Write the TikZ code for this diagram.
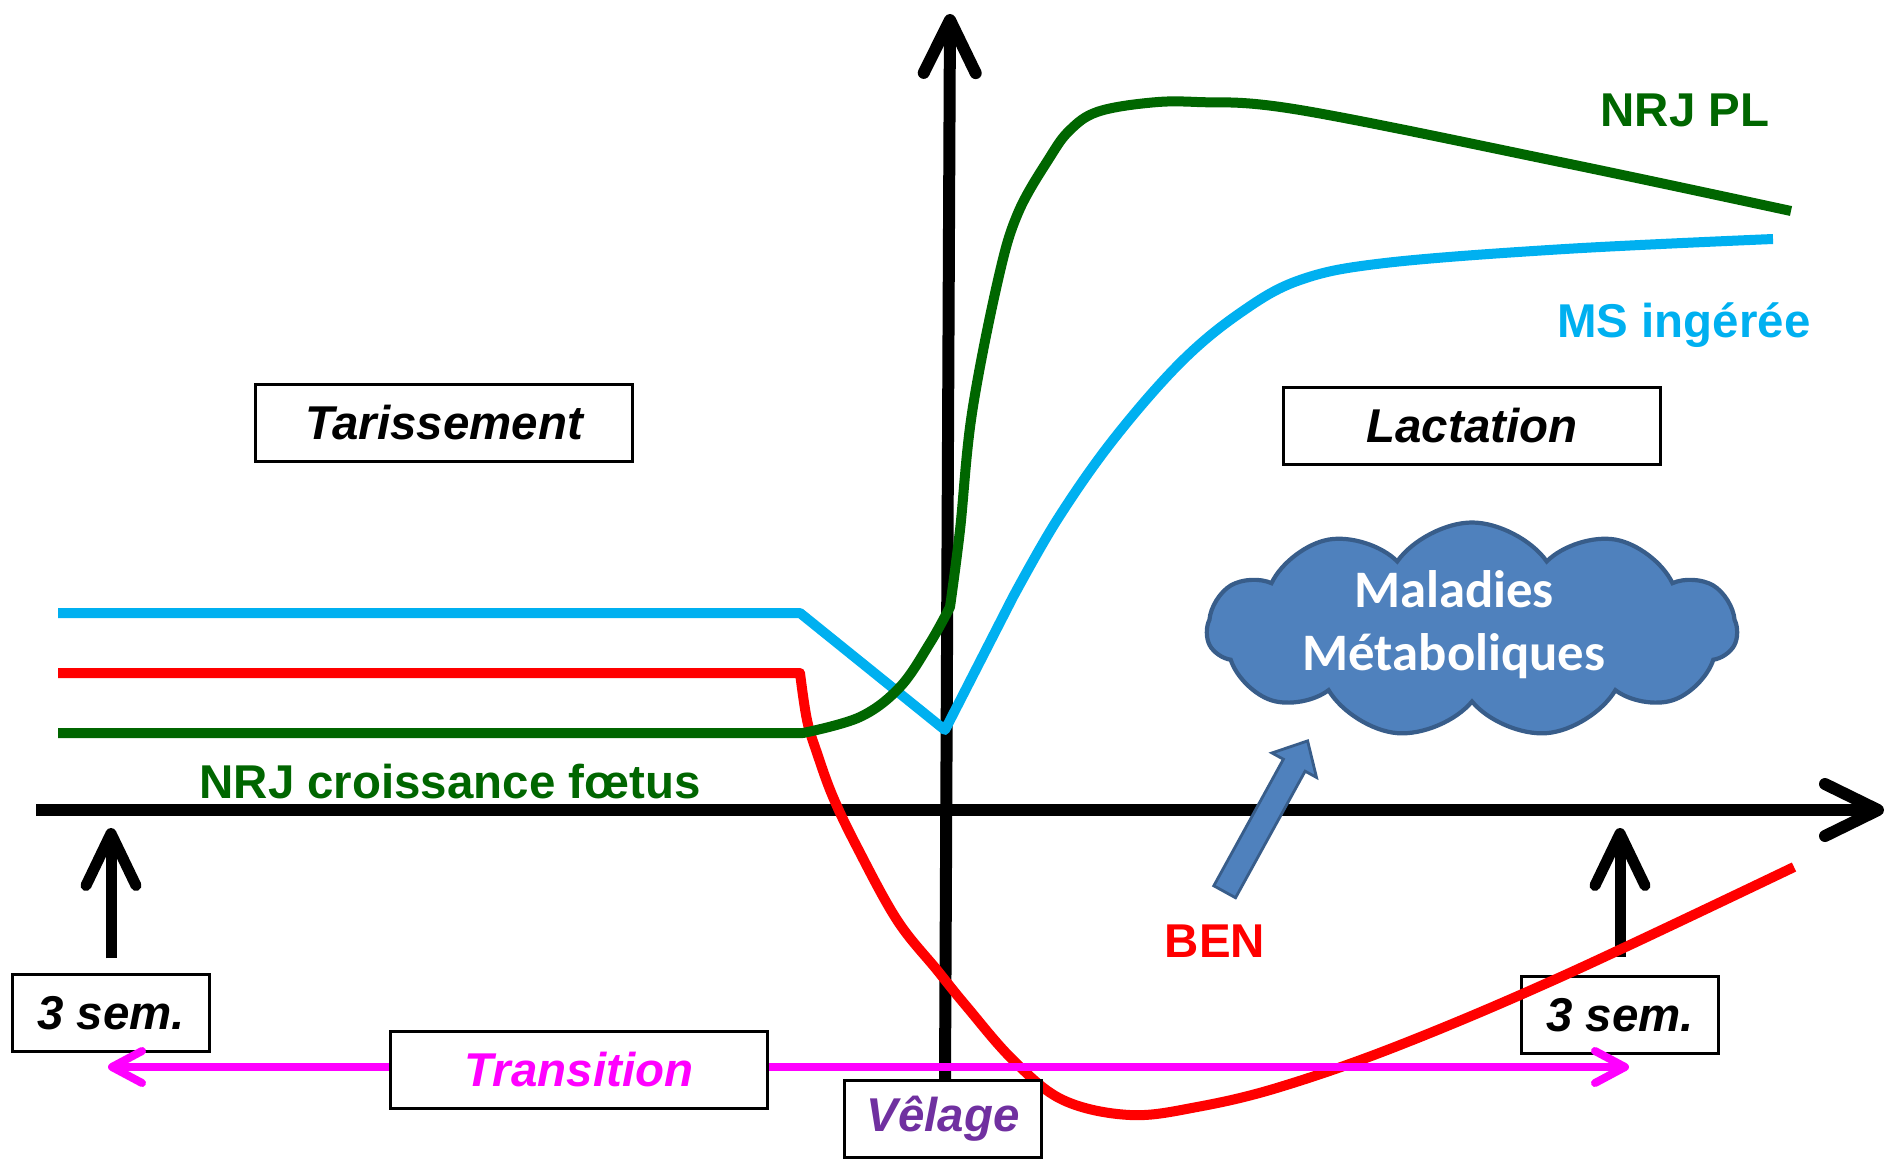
\documentclass[tikz,border=0pt]{standalone}
\usepackage{fontspec}
\setmainfont{Liberation Sans}
\newfontfamily\cloudfont{Carlito}
\usetikzlibrary{arrows.meta,shapes.symbols,shapes.arrows,calc}

\definecolor{msblue}{HTML}{00B0F0}
\definecolor{nrjgreen}{HTML}{006600}
\definecolor{benred}{HTML}{FF0000}
\definecolor{transmag}{HTML}{FF00FF}
\definecolor{velpurple}{HTML}{7030A0}
\definecolor{cloudfill}{HTML}{4F81BD}
\definecolor{cloudline}{HTML}{385D8A}

\tikzset{
	axis/.style={line width=1.2mm, -{Straight Barb[length=5.3mm, width=5.2mm, round]}},
	semarrow/.style={line width=1.1mm, -{Straight Barb[length=5.2mm, width=5mm, round]}},
	transarrow/.style={line width=0.8mm, draw=transmag, >={Straight Barb[length=3mm, width=3.2mm, round]}, <->},
	courbe/.style={line width=1mm, line join=round},
	boxlabel/.style={draw, line width=0.6pt, fill=white, minimum height=7.7mm, inner sep=0pt, font=\fontsize{13.5}{16}\selectfont\bfseries\itshape},
	widebox/.style={boxlabel, minimum width=37.7mm},
	smallbox/.style={boxlabel, minimum width=19.7mm},
	curvelabel/.style={anchor=base, font=\fontsize{13.5}{16}\selectfont\bfseries},
	benarrow/.style={single arrow, draw=cloudline, fill=cloudfill, line width=0.8pt, inner sep=1.1mm, single arrow head extend=1.3mm, single arrow tip angle=85},
}

\begin{document}
\begin{tikzpicture}[x=0.1mm, y=-0.1mm]
	\useasboundingbox (0,0) rectangle (1888,1159);
	\coordinate (xstart) at (36,810);
	\coordinate (xend) at (1884,810);
	\coordinate (ystart) at (945,1080);
	\coordinate (yend) at (950,14);
	\draw [axis] (xstart) -- (xend);
	\draw [axis] (ystart) -- (yend);

	\node [widebox] (tarissement) at (444,423) {Tarissement};
	\node [widebox] (lactation) at (1472,426) {Lactation};
	\node [smallbox] (semL) at (111,1013) {3 sem.};
	\node [smallbox] (semR) at (1620,1015) {3 sem.};
	\coordinate (tipL) at (110,828);
	\coordinate (tipR) at (1616,828);
	\draw [semarrow] ([yshift=1.5mm]semL.north) -- (semL.north |- tipL);
	\draw [semarrow] ([yshift=1.8mm]semR.north) -- (semR.north |- tipR);

	\draw [courbe, benred] (58,673) -- plot [smooth, tension=0.6] coordinates {(800,673) (807,720) (817,753) (833,797) (857,847) (897,920) (937,970) (967,1007) (1013,1060) (1063,1100) (1130,1115) (1197,1107) (1280,1087) (1400,1045) (1565,975) (1794,867)};
	\draw [courbe, msblue] (58,613) -- (800,613) -- (945,730) -- plot [smooth, tension=0.6] coordinates {(1013,597) (1057,520) (1113,440) (1180,363) (1240,313) (1300,280) (1385,263) (1565,249) (1773,239)};
	\draw [courbe, nrjgreen] (58,733) -- plot [smooth, tension=0.6] coordinates {(803,733) (860,717) (900,687) (930,643) (950,607)} -- plot [smooth, tension=0.6] coordinates {(950,607) (960,530) (972,413) (998,280) (1018,213) (1050,157) (1070,130) (1097,112) (1147,103) (1197,102) (1300,110) (1565,163) (1791,211)};

	\coordinate (trL) at (108,1067);
	\coordinate (trR) at (1629,1067);
	\draw [transarrow] (trL) -- (trR);
	\node [widebox, text=transmag] (transition) at (579,1070) {Transition};
	\node [smallbox, text=velpurple] (velage) at (943,1119) {Vêlage};

	\node [curvelabel, nrjgreen] (nrjpl) at (1685,126) {NRJ PL};
	\node [curvelabel, msblue] (ms) at (1684,337) {MS ingérée};
	\node [curvelabel, nrjgreen] (foetus) at (450,798) {NRJ croissance fœtus};
	\node [curvelabel, benred] (ben) at (1215,957) {BEN};

	\node [cloud, cloud puffs=11, cloud puff arc=110, aspect=2.4, draw=cloudline, fill=cloudfill, line width=1.2pt, minimum width=53mm, minimum height=21.5mm, inner sep=0pt] (maladies) at (1472,630) {};
	\node [align=center, text=white, font=\cloudfont\fontsize{15}{18}\selectfont\bfseries] (maladiestxt) at (1454,625) {Maladies\\Métaboliques};

	\coordinate (bentail) at (1224,893);
	\coordinate (bentip) at (1307,742);
	\path let \p1=($(bentip)-(bentail)$), \n1={atan2(\y1,\x1)}, \n2={veclen(\x1,\y1)} in node [benarrow, rotate=\n1, minimum height=\n2, anchor=tail] (benfleche) at (bentail) {};
\end{tikzpicture}
\end{document}
